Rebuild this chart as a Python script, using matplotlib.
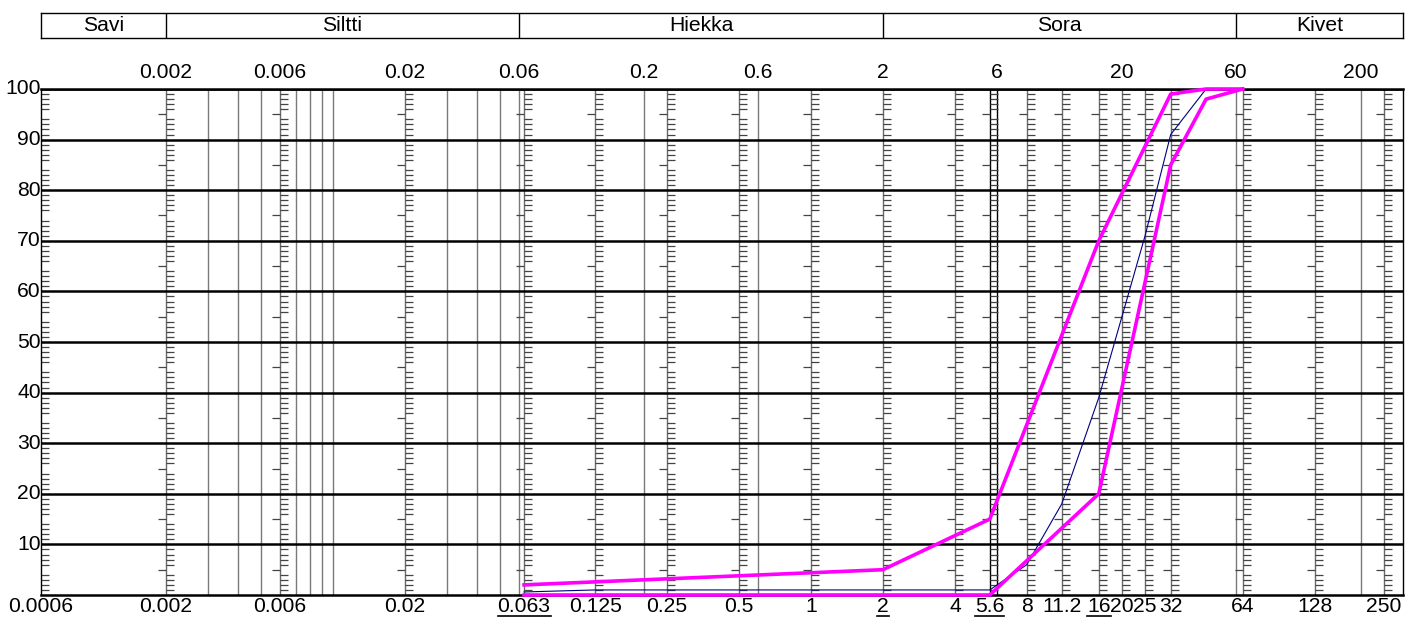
import matplotlib
matplotlib.use("Agg")
import matplotlib.pyplot as plt
from matplotlib.ticker import NullLocator
from matplotlib.transforms import blended_transform_factory
from matplotlib.lines import Line2D

plt.rcParams['font.family'] = ['Liberation Sans', 'DejaVu Sans']

# ---- data ----
fractions = ["Savi", "Siltti", "Hiekka", "Sora", "Kivet"]
fraction_bounds = [0.0006, 0.002, 0.06, 2, 60, 300]

top_labels = [0.002, 0.006, 0.02, 0.06, 0.2, 0.6, 2, 6, 20, 60, 200]
top_label_texts = ["0.002", "0.006", "0.02", "0.06", "0.2", "0.6", "2", "6", "20", "60", "200"]

sieves = [0.002, 0.006, 0.02, 0.063, 0.125, 0.25, 0.5, 1, 2, 4, 5.6, 8, 11.2, 16, 20, 25, 32, 64, 128, 250]
sieve_texts = ["0.002", "0.006", "0.02", "0.063", "0.125", "0.25", "0.5", "1", "2", "4", "5.6", "8",
               "11.2", "16", "20", "25", "32", "64", "128", "250"]
underlined = ["0.063", "2", "5.6", "16"]

plain_lines = [0.003, 0.004, 0.005, 0.007, 0.008, 0.009, 0.01, 0.03, 0.04, 0.05, 0.06,
               0.2, 0.6, 6, 60, 200]

y_labels = [10, 20, 30, 40, 50, 60, 70, 80, 90, 100]

upper_size = [0.063, 2, 5.6, 16, 32, 45, 64]
upper_pass = [2, 5, 15, 70, 99, 100, 100]

lower_size = [0.063, 5.6, 16, 32, 45, 64]
lower_pass = [0, 0, 20, 85, 98, 100]

sample_size = [0.063, 0.125, 0.25, 0.5, 1, 2, 4, 5.6, 8, 11.2, 16, 20, 25, 32, 45, 64]
sample_pass = [0.6, 1.0, 1.0, 1.0, 1.0, 1.0, 1.0, 1.0, 6, 18, 39, 55, 71, 91, 100, 100]

XMIN, XMAX = 0.0006, 300

# ---- figure ----
W, H = 1415, 619
fig = plt.figure(figsize=(W / 100, H / 100), dpi=100)
ax = fig.add_axes([41 / W, (H - 595) / H, (1403 - 41) / W, (595 - 89) / H])
ax.set_xscale('log')
ax.set_xlim(XMIN, XMAX)
ax.set_ylim(0, 100)
ax.xaxis.set_major_locator(NullLocator())
ax.xaxis.set_minor_locator(NullLocator())
ax.yaxis.set_major_locator(NullLocator())
ax.yaxis.set_minor_locator(NullLocator())
for s in ['left', 'right']:
    ax.spines[s].set_linewidth(1.0)
    ax.spines[s].set_color('black')
for s in ['top', 'bottom']:
    ax.spines[s].set_linewidth(1.8)
    ax.spines[s].set_color('black')

FS = 15.2

# plain vertical lines
for x in plain_lines:
    c = 'black' if x == 6 else '#7a7a7a'
    ax.axvline(x, color=c, lw=1.0, zorder=1)

# labelled sieve lines with ladder ticks
right_levels = [v for v in range(1, 100) if v % 5 != 0]
left_levels = [v for v in range(5, 100, 10)]
for x in [XMIN] + sieves:
    c = 'black' if x == 5.6 else '#6a6a6a'
    if x != XMIN:
        ax.axvline(x, color=c, lw=1.0, zorder=1)
    ax.plot([x] * len(right_levels), right_levels, linestyle='none', marker=1,
            markersize=6, markeredgewidth=0.9, color='#444444', zorder=2, clip_on=False)
    if x != XMIN:
        ax.plot([x] * len(left_levels), left_levels, linestyle='none', marker=0,
                markersize=6, markeredgewidth=0.9, color='#444444', zorder=2, clip_on=False)

# horizontal grid
for y in y_labels:
    ax.axhline(y, color='black', lw=1.8, zorder=3)

# curves
ax.plot(sample_size, sample_pass, color='#000080', lw=0.8, zorder=4, clip_on=False)
ax.plot(upper_size, upper_pass, color='#FF00FF', lw=2.6, zorder=5, clip_on=False)
ax.plot(lower_size, lower_pass, color='#FF00FF', lw=2.6, zorder=5, clip_on=False)

# labels
trans = blended_transform_factory(ax.transData, ax.transAxes)
ax_h = 595 - 89
for x, t in zip(top_labels, top_label_texts):
    ax.text(x, 1 + 17 / ax_h, t, transform=trans, ha='center', va='center', fontsize=FS)

bottom_texts = []
for x, t in zip([XMIN] + sieves, ["0.0006"] + sieve_texts):
    tt = ax.text(x, -12 / ax_h, t, transform=trans, ha='center', va='center', fontsize=FS)
    if t in underlined:
        bottom_texts.append(tt)

for y in y_labels:
    ax.text(XMIN, y, str(y), ha='right', va='center', fontsize=FS)

# fraction band
band = fig.add_axes([41 / W, (H - 38) / H, (1403 - 41) / W, 25 / H])
band.set_xscale('log')
band.set_xlim(XMIN, XMAX)
band.set_ylim(0, 1)
band.xaxis.set_major_locator(NullLocator())
band.xaxis.set_minor_locator(NullLocator())
band.yaxis.set_major_locator(NullLocator())
for s in band.spines.values():
    s.set_linewidth(1.0)
    s.set_color('black')
for b in fraction_bounds[1:-1]:
    band.axvline(b, color='black', lw=1.0)
for i, name in enumerate(fractions):
    a, b = fraction_bounds[i], fraction_bounds[i + 1]
    band.text((a * b) ** 0.5, 0.5, name, ha='center', va='center', fontsize=FS)

# underlines
fig.canvas.draw()
r = fig.canvas.get_renderer()
for tt in bottom_texts:
    bb = tt.get_window_extent(r)
    y = bb.y0 + 1.0
    fig.add_artist(Line2D([bb.x0 / W, bb.x1 / W], [y / H, y / H], color='black', lw=1.2,
                          transform=fig.transFigure))

fig.savefig('out.png', dpi=100)
